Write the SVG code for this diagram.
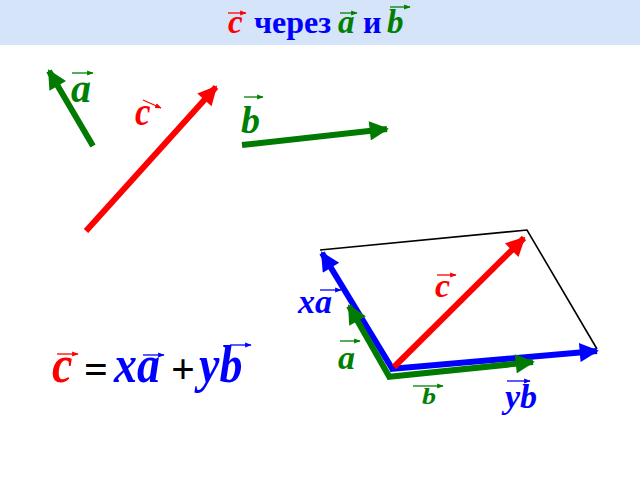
<svg xmlns="http://www.w3.org/2000/svg" width="640" height="480" viewBox="0 0 640 480">
<defs>
<style>
.t{font-family:"Liberation Serif",serif;font-weight:bold}
.i{font-style:italic}
.r{fill:#ff0000}.g{fill:#008000}.b{fill:#0000ff}.k{fill:#000}
.vr{stroke:#ff0000;stroke-width:6;fill:none}
.vg{stroke:#007a00;stroke-width:6;fill:none}
.vb{stroke:#0000ff;stroke-width:6;fill:none}
.sr{stroke:#ff0000;stroke-width:1.3;fill:none}
.sg{stroke:#008000;stroke-width:1.3;fill:none}
.sb{stroke:#0000ff;stroke-width:1.3;fill:none}
</style>
<marker id="hr" viewBox="0 0 10 10" refX="9" refY="5" markerWidth="3.6" markerHeight="3.2" orient="auto" markerUnits="strokeWidth"><path d="M0,0L10,5L0,10z" fill="#ff0000"/></marker>
<marker id="hg" viewBox="0 0 10 10" refX="9" refY="5" markerWidth="3.6" markerHeight="3.2" orient="auto" markerUnits="strokeWidth"><path d="M0,0L10,5L0,10z" fill="#007a00"/></marker>
<marker id="hb" viewBox="0 0 10 10" refX="9" refY="5" markerWidth="3.6" markerHeight="3.2" orient="auto" markerUnits="strokeWidth"><path d="M0,0L10,5L0,10z" fill="#0000ff"/></marker>
<marker id="sr" viewBox="0 0 10 10" refX="9" refY="5" markerWidth="5" markerHeight="5" orient="auto" markerUnits="strokeWidth"><path d="M0,1L10,5L0,9z" fill="#ff0000"/></marker>
<marker id="sg" viewBox="0 0 10 10" refX="9" refY="5" markerWidth="5" markerHeight="5" orient="auto" markerUnits="strokeWidth"><path d="M0,1L10,5L0,9z" fill="#008000"/></marker>
<marker id="sb" viewBox="0 0 10 10" refX="9" refY="5" markerWidth="5" markerHeight="5" orient="auto" markerUnits="strokeWidth"><path d="M0,1L10,5L0,9z" fill="#0000ff"/></marker>
</defs>

<g id="title">
<rect x="0" y="0" width="640" height="45" fill="#d6e4fa"/>
<text class="t i r" x="228" y="33" font-size="33">c</text>
<line class="sr" x1="228" y1="13" x2="246" y2="13" marker-end="url(#sr)"/>
<text class="t b" x="254" y="33" font-size="32">через</text>
<text class="t i g" x="338" y="33" font-size="33">a</text>
<line class="sg" x1="340" y1="13" x2="357" y2="13" marker-end="url(#sg)"/>
<text class="t b" x="363" y="33" font-size="32">и</text>
<text class="t i g" x="387" y="33" font-size="33">b</text>
<line class="sg" x1="390" y1="7" x2="410" y2="7" marker-end="url(#sg)"/>
</g>

<g id="connectors">
<line class="vg" x1="93" y1="146" x2="49" y2="71" marker-end="url(#hg)"/>
<line class="vr" x1="86" y1="231" x2="216" y2="87" marker-end="url(#hr)"/>
<line class="vg" x1="242" y1="145" x2="387" y2="129" marker-end="url(#hg)"/>
<polyline points="320,250 527,230 597,349" fill="none" stroke="#000" stroke-width="1.6"/>
<line class="vb" x1="393" y1="370" x2="322" y2="253" marker-end="url(#hb)"/>
<line class="vb" x1="390" y1="369" x2="597" y2="351" marker-end="url(#hb)"/>
<line class="vg" x1="390" y1="378" x2="349" y2="306" marker-end="url(#hg)"/>
<line class="vg" x1="387" y1="377" x2="533" y2="362" marker-end="url(#hg)"/>
<line class="vr" x1="394" y1="367" x2="524" y2="238" marker-end="url(#hr)"/>
</g>

<g id="label-a-top">
<text class="t i g" x="71" y="102" font-size="40">a</text>
<line class="sg" x1="72" y1="73" x2="93" y2="73" marker-end="url(#sg)"/>
</g>
<g id="label-c-top">
<text class="t i r" transform="translate(135,125) scale(1,1.15)" font-size="35">c</text>
<line class="sr" x1="143" y1="100" x2="161" y2="108" marker-end="url(#sr)"/>
</g>
<g id="label-b-top">
<text class="t i g" x="241" y="133" font-size="38">b</text>
<line class="sg" x1="244" y1="97" x2="263" y2="97" marker-end="url(#sg)"/>
</g>

<g id="label-c-par">
<text class="t i r" x="435" y="297" font-size="34">c</text>
<line class="sr" x1="437" y1="275" x2="456" y2="275" marker-end="url(#sr)"/>
</g>
<g id="label-xa">
<text class="t i b" x="298" y="313" font-size="34">xa</text>
<line class="sb" x1="320" y1="290" x2="341" y2="290" marker-end="url(#sb)"/>
</g>
<g id="label-a-par">
<text class="t i g" x="338" y="369" font-size="34">a</text>
<line class="sg" x1="340" y1="341" x2="360" y2="341" marker-end="url(#sg)"/>
</g>
<g id="label-b-par">
<text class="t i g" transform="translate(422,404) scale(1,0.85)" font-size="28">b</text>
<line class="sg" x1="413" y1="386" x2="443" y2="386" marker-end="url(#sg)"/>
</g>
<g id="label-yb">
<text class="t i b" x="505" y="408" font-size="34">yb</text>
<line class="sb" x1="507" y1="381" x2="530" y2="381" marker-end="url(#sb)"/>
</g>

<g id="equation">
<text class="t i r" transform="translate(52,382) scale(1,1.15)" font-size="46">c</text>
<line class="sr" x1="57" y1="354" x2="78" y2="354" marker-end="url(#sr)"/>
<text class="t k" x="84" y="383" font-size="42">=</text>
<text class="t i b" transform="translate(114,382) scale(1,1.15)" font-size="46">xa</text>
<line class="sb" x1="143" y1="355" x2="164" y2="355" marker-end="url(#sb)"/>
<text class="t k" x="171" y="383" font-size="42">+</text>
<text class="t i b" transform="translate(199,382) scale(1,1.15)" font-size="46">yb</text>
<line class="sb" x1="230" y1="345" x2="251" y2="345" marker-end="url(#sb)"/>
</g>
</svg>
